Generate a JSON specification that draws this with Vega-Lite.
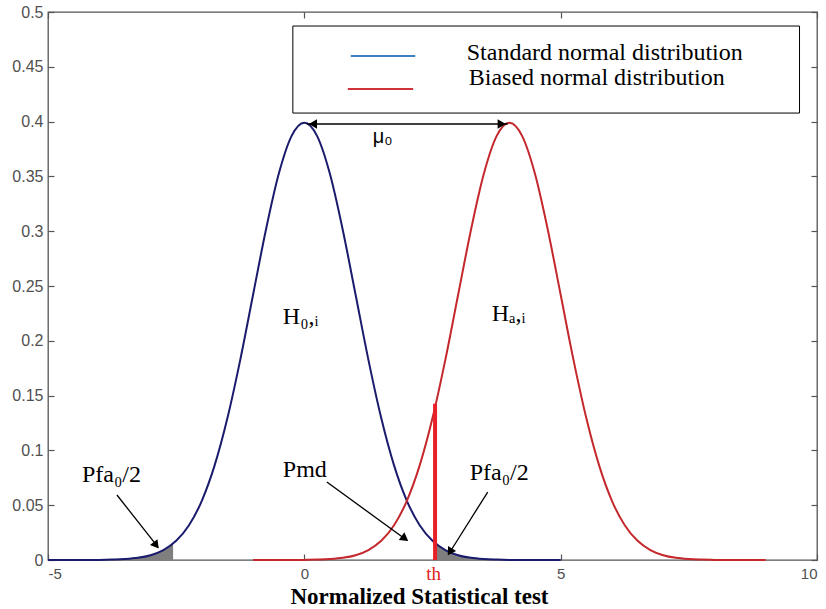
{
  "$schema": "https://vega.github.io/schema/vega-lite/v6.json",
  "width": 769,
  "height": 548,
  "autosize": {"type": "none"},
  "padding": {"left": 48, "top": 12, "right": 9, "bottom": 49},
  "background": "white",
  "config": {
    "view": {"stroke": "#555555", "strokeWidth": 1.3},
    "axis": {"grid": false, "domain": false, "labelFont": "Liberation Sans", "labelFontSize": 15, "labelColor": "#505050", "tickColor": "#555555", "tickWidth": 1.2}
  },
  "datasets": {
    "curves": [
      {"s":"std","x":-5,"y":0},{"s":"std","x":-4.75,"y":0},{"s":"std","x":-4.5,"y":0},{"s":"std","x":-4.25,"y":0},
      {"s":"std","x":-4,"y":0.0001},{"s":"std","x":-3.75,"y":0.0004},{"s":"std","x":-3.5,"y":0.0009},{"s":"std","x":-3.25,"y":0.002},
      {"s":"std","x":-3,"y":0.0044},{"s":"std","x":-2.75,"y":0.0091},{"s":"std","x":-2.5,"y":0.0175},{"s":"std","x":-2.25,"y":0.0317},
      {"s":"std","x":-2,"y":0.054},{"s":"std","x":-1.75,"y":0.0863},{"s":"std","x":-1.5,"y":0.1295},{"s":"std","x":-1.25,"y":0.1826},
      {"s":"std","x":-1,"y":0.242},{"s":"std","x":-0.75,"y":0.3011},{"s":"std","x":-0.5,"y":0.3521},{"s":"std","x":-0.25,"y":0.3867},
      {"s":"std","x":0,"y":0.3989},{"s":"std","x":0.25,"y":0.3867},{"s":"std","x":0.5,"y":0.3521},{"s":"std","x":0.75,"y":0.3011},
      {"s":"std","x":1,"y":0.242},{"s":"std","x":1.25,"y":0.1826},{"s":"std","x":1.5,"y":0.1295},{"s":"std","x":1.75,"y":0.0863},
      {"s":"std","x":2,"y":0.054},{"s":"std","x":2.25,"y":0.0317},{"s":"std","x":2.5,"y":0.0175},{"s":"std","x":2.75,"y":0.0091},
      {"s":"std","x":3,"y":0.0044},{"s":"std","x":3.25,"y":0.002},{"s":"std","x":3.5,"y":0.0009},{"s":"std","x":3.75,"y":0.0004},
      {"s":"std","x":4,"y":0.0001},{"s":"std","x":4.25,"y":0},{"s":"std","x":4.5,"y":0},{"s":"std","x":4.75,"y":0},{"s":"std","x":5,"y":0},
      {"s":"bias","x":-1,"y":0},{"s":"bias","x":-0.75,"y":0},{"s":"bias","x":-0.5,"y":0},{"s":"bias","x":-0.25,"y":0},
      {"s":"bias","x":0,"y":0.0001},{"s":"bias","x":0.25,"y":0.0004},{"s":"bias","x":0.5,"y":0.0009},{"s":"bias","x":0.75,"y":0.002},
      {"s":"bias","x":1,"y":0.0044},{"s":"bias","x":1.25,"y":0.0091},{"s":"bias","x":1.5,"y":0.0175},{"s":"bias","x":1.75,"y":0.0317},
      {"s":"bias","x":2,"y":0.054},{"s":"bias","x":2.25,"y":0.0863},{"s":"bias","x":2.5,"y":0.1295},{"s":"bias","x":2.75,"y":0.1826},
      {"s":"bias","x":3,"y":0.242},{"s":"bias","x":3.25,"y":0.3011},{"s":"bias","x":3.5,"y":0.3521},{"s":"bias","x":3.75,"y":0.3867},
      {"s":"bias","x":4,"y":0.3989},{"s":"bias","x":4.25,"y":0.3867},{"s":"bias","x":4.5,"y":0.3521},{"s":"bias","x":4.75,"y":0.3011},
      {"s":"bias","x":5,"y":0.242},{"s":"bias","x":5.25,"y":0.1826},{"s":"bias","x":5.5,"y":0.1295},{"s":"bias","x":5.75,"y":0.0863},
      {"s":"bias","x":6,"y":0.054},{"s":"bias","x":6.25,"y":0.0317},{"s":"bias","x":6.5,"y":0.0175},{"s":"bias","x":6.75,"y":0.0091},
      {"s":"bias","x":7,"y":0.0044},{"s":"bias","x":7.25,"y":0.002},{"s":"bias","x":7.5,"y":0.0009},{"s":"bias","x":7.75,"y":0.0004},
      {"s":"bias","x":8,"y":0.0001},{"s":"bias","x":8.25,"y":0},{"s":"bias","x":8.5,"y":0},{"s":"bias","x":8.75,"y":0},{"s":"bias","x":9,"y":0}
    ],
    "tails": [
      {"side":"left","x":-4,"y":0.0001},{"side":"left","x":-3.75,"y":0.0004},{"side":"left","x":-3.5,"y":0.0009},{"side":"left","x":-3.25,"y":0.002},
      {"side":"left","x":-3,"y":0.0044},{"side":"left","x":-2.75,"y":0.0091},{"side":"left","x":-2.56,"y":0.0151},
      {"side":"right","x":2.56,"y":0.0151},{"side":"right","x":2.75,"y":0.0091},{"side":"right","x":3,"y":0.0044},{"side":"right","x":3.25,"y":0.002},
      {"side":"right","x":3.5,"y":0.0009},{"side":"right","x":3.75,"y":0.0004},{"side":"right","x":4,"y":0.0001}
    ],
    "arrows": [
      {"x":0.05,"y":0.3978,"x2":3.967,"y2":0.3978},
      {"x":-3.655,"y":0.0593,"x2":-2.85,"y2":0.0115},
      {"x":0.439,"y":0.0712,"x2":2.0,"y2":0.018},
      {"x":3.577,"y":0.062,"x2":2.81,"y2":0.005}
    ],
    "labels": [
      {"x":-0.419,"y":0.2153,"t":"H₀,ᵢ"},
      {"x":3.655,"y":0.218,"t":"Hₐ,ᵢ"},
      {"x":-4.337,"y":0.0712,"t":"Pfa₀/2"},
      {"x":-0.419,"y":0.0757,"t":"Pmd"},
      {"x":3.226,"y":0.073,"t":"Pfa₀/2"}
    ],
    "legend": [
      {"s":"std","x":0.906,"x2":2.164,"y":0.4599,"tx":3.168,"ty":0.4562,"label":"Standard normal distribution"},
      {"s":"bias","x":0.848,"x2":2.123,"y":0.4297,"tx":3.207,"ty":0.4334,"label":"Biased normal distribution"}
    ]
  },
  "layer": [
    {
      "data": {"name": "tails"},
      "mark": {"type": "area", "color": "#7f7f7f", "opacity": 1},
      "encoding": {
        "x": {"field": "x", "type": "quantitative", "scale": {"domain": [-5, 10], "nice": false, "zero": false}, "axis": null},
        "y": {"field": "y", "type": "quantitative", "scale": {"domain": [0, 0.5], "nice": false}, "stack": null, "axis": null},
        "detail": {"field": "side", "type": "nominal"}
      }
    },
    {
      "data": {"name": "curves"},
      "mark": {"type": "line", "interpolate": "monotone", "strokeWidth": 2},
      "encoding": {
        "x": {"field": "x", "type": "quantitative", "axis": {
          "orient": "bottom", "values": [-5, 0, 5, 10],
          "labelExpr": "'' + datum.value",
          "tickSize": -6, "labelPadding": 12,
          "title": "Normalized Statistical test", "titleFont": "Liberation Serif", "titleFontSize": 23,
          "titleFontWeight": "bold", "titleColor": "black", "titleBaseline": "alphabetic", "titleX": 371, "titleY": 43, "titleAlign": "center"
        }},
        "y": {"field": "y", "type": "quantitative", "axis": {
          "orient": "left", "values": [0, 0.05, 0.1, 0.15, 0.2, 0.25, 0.3, 0.35, 0.4, 0.45, 0.5],
          "format": "~g", "tickSize": -6, "labelPadding": 11, "labelFontSize": 16, "title": null
        }},
        "color": {"field": "s", "type": "nominal", "scale": {"domain": ["std", "bias"], "range": ["#1b1b6e", "#c4282d"]}, "legend": null}
      }
    },
    {
      "data": {"values": [{"x": 2.55, "y": 0, "y2": 0.1425}]},
      "mark": {"type": "rule", "color": "#e8202a", "strokeWidth": 4},
      "encoding": {
        "x": {"field": "x", "type": "quantitative", "axis": null},
        "y": {"field": "y", "type": "quantitative", "axis": null},
        "y2": {"field": "y2"}
      }
    },
    {
      "data": {"name": "arrows"},
      "mark": {"type": "rule", "color": "black", "strokeWidth": 1.3},
      "encoding": {
        "x": {"field": "x", "type": "quantitative", "axis": null},
        "y": {"field": "y", "type": "quantitative", "axis": null},
        "x2": {"field": "x2"},
        "y2": {"field": "y2"}
      }
    },
    {
      "data": {"values": [{"x": 0.167, "y": 0.3978}]},
      "mark": {"type": "point", "shape": "triangle-left", "filled": true, "color": "black", "opacity": 1, "size": 90},
      "encoding": {"x": {"field": "x", "type": "quantitative", "axis": null}, "y": {"field": "y", "type": "quantitative", "axis": null}}
    },
    {
      "data": {"values": [{"x": 3.85, "y": 0.3978}]},
      "mark": {"type": "point", "shape": "triangle-right", "filled": true, "color": "black", "opacity": 1, "size": 90},
      "encoding": {"x": {"field": "x", "type": "quantitative", "axis": null}, "y": {"field": "y", "type": "quantitative", "axis": null}}
    },
    {
      "data": {"values": [{"x": -2.889, "y": 0.0134}]},
      "mark": {"type": "point", "shape": "triangle-up", "angle": 142, "filled": true, "color": "black", "opacity": 1, "size": 90},
      "encoding": {"x": {"field": "x", "type": "quantitative", "axis": null}, "y": {"field": "y", "type": "quantitative", "axis": null}}
    },
    {
      "data": {"values": [{"x": 1.961, "y": 0.0196}]},
      "mark": {"type": "point", "shape": "triangle-up", "angle": 126, "filled": true, "color": "black", "opacity": 1, "size": 90},
      "encoding": {"x": {"field": "x", "type": "quantitative", "axis": null}, "y": {"field": "y", "type": "quantitative", "axis": null}}
    },
    {
      "data": {"values": [{"x": 2.84, "y": 0.0074}]},
      "mark": {"type": "point", "shape": "triangle-up", "angle": 212, "filled": true, "color": "black", "opacity": 1, "size": 90},
      "encoding": {"x": {"field": "x", "type": "quantitative", "axis": null}, "y": {"field": "y", "type": "quantitative", "axis": null}}
    },
    {
      "data": {"name": "labels"},
      "mark": {"type": "text", "font": "Liberation Serif", "fontSize": 24, "color": "black", "align": "left", "baseline": "alphabetic"},
      "encoding": {
        "x": {"field": "x", "type": "quantitative", "axis": null},
        "y": {"field": "y", "type": "quantitative", "axis": null},
        "text": {"field": "t"}
      }
    },
    {
      "data": {"values": [{"x": 1.335, "y": 0.3805, "t": "μ₀"}]},
      "mark": {"type": "text", "font": "Liberation Sans", "fontSize": 20, "color": "black", "align": "left", "baseline": "alphabetic"},
      "encoding": {
        "x": {"field": "x", "type": "quantitative", "axis": null},
        "y": {"field": "y", "type": "quantitative", "axis": null},
        "text": {"field": "t"}
      }
    },
    {
      "data": {"values": [{"x": 2.524, "y": -0.0182, "t": "th"}]},
      "mark": {"type": "text", "font": "Liberation Serif", "fontSize": 19, "color": "#e0201c", "align": "center", "baseline": "alphabetic"},
      "encoding": {
        "x": {"field": "x", "type": "quantitative", "axis": null},
        "y": {"field": "y", "type": "quantitative", "axis": null},
        "text": {"field": "t"}
      }
    },
    {
      "data": {"values": [{"x": -0.224, "x2": 9.659, "y": 0.4078, "y2": 0.4872}]},
      "mark": {"type": "rect", "fill": "white", "stroke": "black", "strokeWidth": 1},
      "encoding": {
        "x": {"field": "x", "type": "quantitative", "axis": {"orient": "top", "values": [-5, 0, 5, 10], "labels": false, "tickSize": -6, "title": null}},
        "y": {"field": "y", "type": "quantitative", "axis": {"orient": "right", "values": [0, 0.05, 0.1, 0.15, 0.2, 0.25, 0.3, 0.35, 0.4, 0.45, 0.5], "labels": false, "tickSize": -6, "title": null}},
        "x2": {"field": "x2"},
        "y2": {"field": "y2"}
      }
    },
    {
      "data": {"name": "legend"},
      "mark": {"type": "rule", "strokeWidth": 2},
      "encoding": {
        "x": {"field": "x", "type": "quantitative", "axis": null},
        "x2": {"field": "x2"},
        "y": {"field": "y", "type": "quantitative", "axis": null},
        "color": {"field": "s", "type": "nominal", "scale": {"domain": ["std", "bias"], "range": ["#3f7fc0", "#d0343a"]}, "legend": null}
      }
    },
    {
      "data": {"name": "legend"},
      "mark": {"type": "text", "font": "Liberation Serif", "fontSize": 24, "color": "black", "align": "left", "baseline": "alphabetic"},
      "encoding": {
        "x": {"field": "tx", "type": "quantitative", "axis": null},
        "y": {"field": "ty", "type": "quantitative", "axis": null},
        "text": {"field": "label"}
      }
    }
  ],
  "resolve": {"axis": {"x": "independent", "y": "independent"}, "scale": {"color": "independent"}}
}
